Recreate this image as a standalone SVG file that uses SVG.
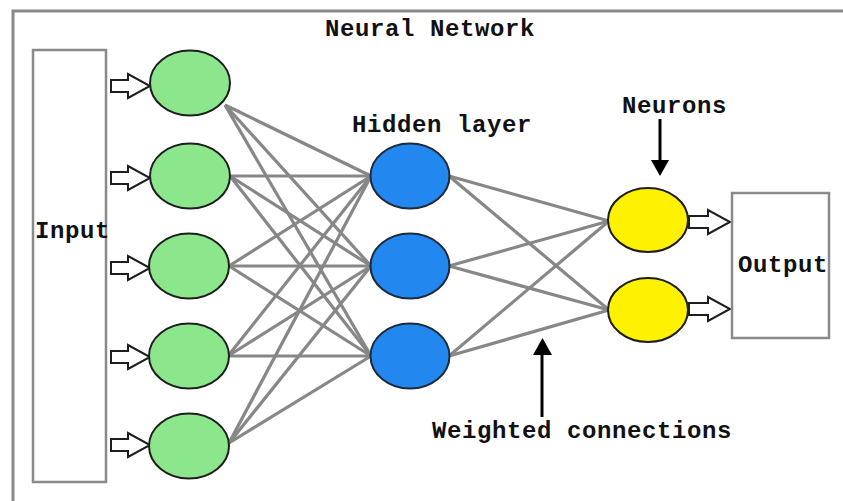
<svg xmlns="http://www.w3.org/2000/svg" width="843" height="501" viewBox="0 0 843 501">
<defs>
<style>
.frame{fill:none;stroke:#8a8a8a;stroke-width:3}
.box{fill:#fff;stroke:#8a8a8a;stroke-width:2.5}
.conn{stroke:#878787;stroke-width:3.2;fill:none}
.g{fill:#8ce68c;stroke:#1e1e1e;stroke-width:2}
.b{fill:#2287ee;stroke:#1e2a3a;stroke-width:2}
.y{fill:#fff200;stroke:#1e1e1e;stroke-width:2}
.ha{fill:#fff;stroke:#1e1e1e;stroke-width:2;stroke-linejoin:miter}
.lbl{font-family:"Liberation Mono","DejaVu Sans Mono",monospace;font-weight:bold;font-size:24px;letter-spacing:0.6px;fill:#111}
.pt{stroke:#000;stroke-width:3}
</style>
</defs>
<rect width="843" height="501" fill="#fff"/>
<path class="frame" d="M13,501 V11 H843"/>
<text class="lbl" x="325" y="36">Neural Network</text>

<g id="connectors">
<line class="conn" x1="225" y1="105" x2="371" y2="176"/>
<line class="conn" x1="225" y1="105" x2="371" y2="266"/>
<line class="conn" x1="225" y1="105" x2="371" y2="356"/>
<line class="conn" x1="230" y1="176" x2="371" y2="176"/>
<line class="conn" x1="230" y1="176" x2="371" y2="266"/>
<line class="conn" x1="230" y1="176" x2="371" y2="356"/>
<line class="conn" x1="229" y1="266" x2="371" y2="176"/>
<line class="conn" x1="229" y1="266" x2="371" y2="266"/>
<line class="conn" x1="229" y1="266" x2="371" y2="356"/>
<line class="conn" x1="228" y1="356" x2="371" y2="176"/>
<line class="conn" x1="228" y1="356" x2="371" y2="266"/>
<line class="conn" x1="228" y1="356" x2="371" y2="356"/>
<line class="conn" x1="229" y1="443" x2="371" y2="176"/>
<line class="conn" x1="229" y1="443" x2="371" y2="266"/>
<line class="conn" x1="229" y1="443" x2="371" y2="356"/>
<line class="conn" x1="449" y1="176" x2="609" y2="221"/>
<line class="conn" x1="449" y1="176" x2="609" y2="310"/>
<line class="conn" x1="449" y1="266" x2="609" y2="221"/>
<line class="conn" x1="449" y1="266" x2="609" y2="310"/>
<line class="conn" x1="449" y1="356" x2="609" y2="221"/>
<line class="conn" x1="449" y1="356" x2="609" y2="310"/>
</g>

<g id="input">
<rect class="box" x="33" y="50" width="73" height="432"/>
<text class="lbl" x="35" y="238">Input</text>
</g>

<g id="input-arrows">
<path class="ha" d="M111,80 H128 V74 L150,86 L128,98 V92 H111 Z"/>
<path class="ha" d="M111,172 H128 V166 L150,178 L128,190 V184 H111 Z"/>
<path class="ha" d="M111,262 H128 V256 L150,268 L128,280 V274 H111 Z"/>
<path class="ha" d="M111,351 H128 V345 L150,357 L128,369 V363 H111 Z"/>
<path class="ha" d="M111,439 H128 V433 L150,445 L128,457 V451 H111 Z"/>
</g>

<g id="in1"><ellipse class="g" cx="190" cy="83" rx="40" ry="32.5"/></g>
<g id="in2"><ellipse class="g" cx="190" cy="176" rx="40" ry="32.5"/></g>
<g id="in3"><ellipse class="g" cx="189" cy="266" rx="40" ry="32.5"/></g>
<g id="in4"><ellipse class="g" cx="189" cy="356" rx="40" ry="32.5"/></g>
<g id="in5"><ellipse class="g" cx="189" cy="446" rx="40" ry="32.5"/></g>

<g id="hidden-label"><text class="lbl" x="352" y="132">Hidden layer</text></g>
<g id="h1"><ellipse class="b" cx="410" cy="176" rx="39.5" ry="32.5"/></g>
<g id="h2"><ellipse class="b" cx="410" cy="266" rx="39.5" ry="32.5"/></g>
<g id="h3"><ellipse class="b" cx="410" cy="356" rx="39.5" ry="32.5"/></g>

<g id="o1"><ellipse class="y" cx="648" cy="220" rx="40" ry="32"/></g>
<g id="o2"><ellipse class="y" cx="648" cy="310" rx="40" ry="32"/></g>

<g id="output-arrows">
<path class="ha" d="M689,216 H708 V210 L730,222 L708,234 V228 H689 Z"/>
<path class="ha" d="M689,303 H708 V297 L730,309 L708,321 V315 H689 Z"/>
</g>

<g id="output">
<rect class="box" x="732" y="193" width="97" height="145"/>
<text class="lbl" x="738" y="272">Output</text>
</g>

<g id="neurons-label">
<text class="lbl" x="622" y="113">Neurons</text>
<line class="pt" x1="660" y1="119" x2="660" y2="162"/>
<polygon points="651,160 669,160 660,176" fill="#000"/>
</g>

<g id="weights-label">
<line class="pt" x1="542" y1="417" x2="542" y2="352"/>
<polygon points="533,355 552,355 542.5,338" fill="#000"/>
<text class="lbl" x="432" y="438">Weighted connections</text>
</g>
</svg>
